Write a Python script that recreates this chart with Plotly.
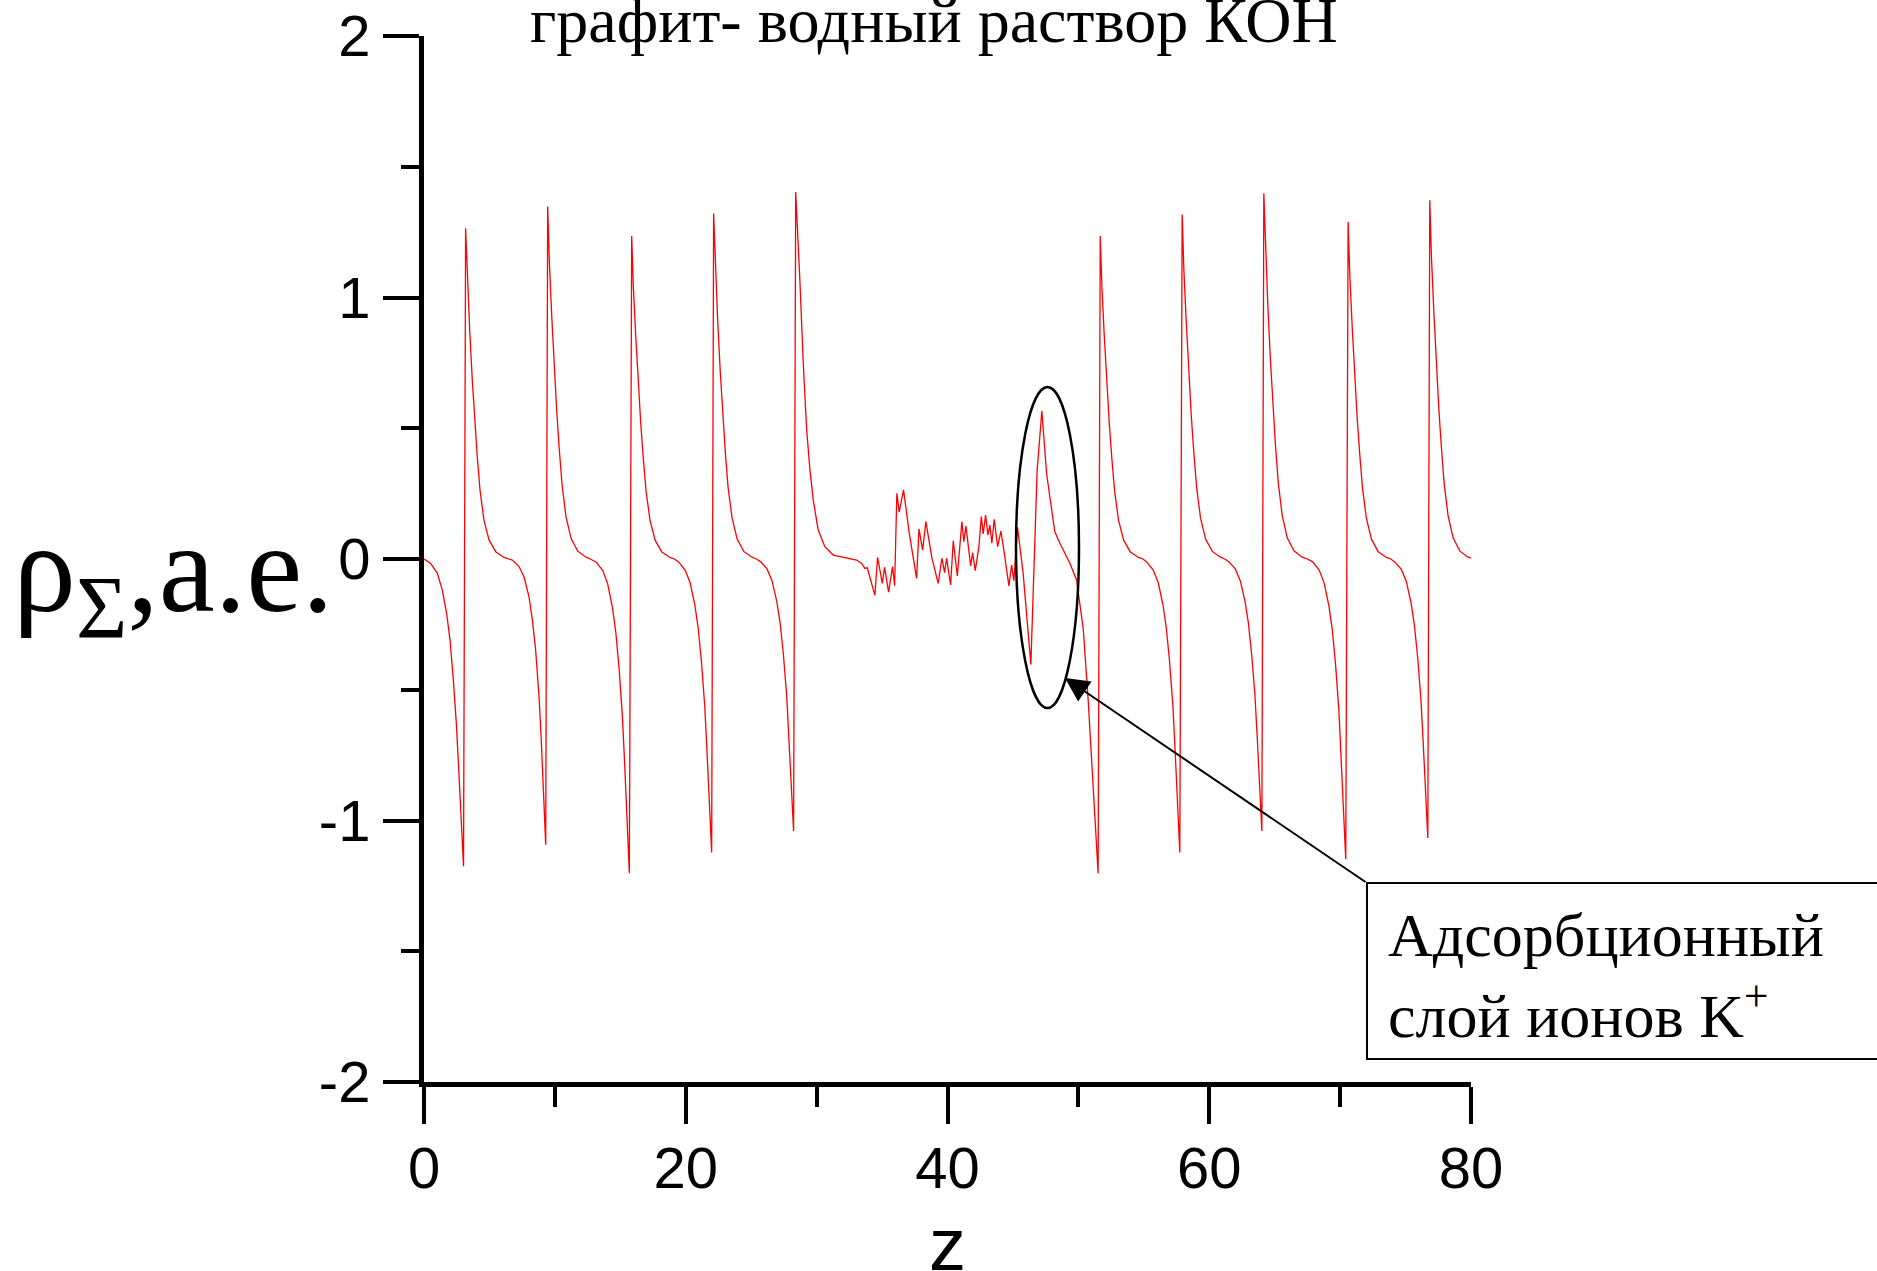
import plotly.graph_objects as go

# ---- data ----
z_left = [0, 0.51, 1.02, 1.40, 1.73, 1.99, 2.24, 2.47, 2.67, 2.85, 3.02,
          3.18, 3.31, 3.49, 3.69, 3.87, 4.07, 4.28, 4.58, 4.97, 5.48, 6.11, 6.57, 6.75, 7.26, 7.64, 8.02, 8.28, 8.53, 8.79, 8.96, 9.12, 9.30,
          9.45, 9.58, 9.76, 9.96, 10.14, 10.34, 10.55, 10.85, 11.24, 11.75, 12.38, 12.71, 13.16, 13.66, 14.04, 14.40, 14.66, 14.91, 15.16, 15.34, 15.51, 15.69,
          15.87, 16.00, 16.18, 16.38, 16.56, 16.76, 16.97, 17.27, 17.66, 18.17, 18.80, 19.13, 19.45, 19.95, 20.33, 20.69, 20.95, 21.20, 21.45, 21.63, 21.80, 21.98,
          22.13, 22.26, 22.44, 22.64, 22.82, 23.02, 23.23, 23.53, 23.92, 24.43, 25.06, 25.39, 25.71, 26.21, 26.59, 26.95, 27.21, 27.46, 27.71, 27.89, 28.06, 28.24,
          28.40, 28.56, 28.72, 28.98, 29.24, 29.49, 29.74, 30.12, 30.63, 31.27, 32.29, 33.05]
rho_left = [0, -0.017, -0.055, -0.119, -0.208, -0.31, -0.463, -0.628, -0.82, -1.01, -1.175,
            1.265, 1.067, 0.876, 0.684, 0.532, 0.391, 0.264, 0.149, 0.073, 0.028, 0.006, 0.0, -0.004, -0.029, -0.068, -0.144, -0.233, -0.348, -0.527, -0.692, -0.883, -1.093,
            1.348, 1.132, 0.930, 0.728, 0.566, 0.418, 0.283, 0.162, 0.078, 0.030, 0.007, 0.0, -0.012, -0.044, -0.096, -0.186, -0.282, -0.421, -0.601, -0.793, -0.998, -1.202,
            1.235, 1.037, 0.852, 0.667, 0.519, 0.383, 0.259, 0.148, 0.072, 0.027, 0.006, 0.0, -0.011, -0.042, -0.090, -0.174, -0.264, -0.393, -0.561, -0.741, -0.931, -1.122,
            1.321, 1.110, 0.911, 0.713, 0.555, 0.410, 0.277, 0.159, 0.077, 0.029, 0.007, 0.0, -0.010, -0.038, -0.083, -0.161, -0.244, -0.364, -0.520, -0.686, -0.863, -1.040,
            1.403, 1.24, 1.067, 0.748, 0.493, 0.340, 0.226, 0.111, 0.047, 0.015, 0.003, -0.004]

z_water = [33.44, 33.69, 33.87, 34.07, 34.45, 34.66, 35.02, 35.19, 35.50, 35.80, 35.96, 36.13, 36.31, 36.64, 37.08, 37.64,
           37.82, 38.10, 38.35, 38.81, 39.29, 39.57, 39.78, 39.93, 40.24, 40.44, 40.75, 41.10, 41.25, 41.41, 41.77, 41.92,
           42.12, 42.40, 42.58, 42.73, 42.91, 43.09, 43.24, 43.39, 43.57, 43.83, 44.08, 44.38, 44.69, 44.90, 45.07]
rho_water = [-0.017, -0.036, -0.034, -0.068, -0.138, 0.006, -0.093, -0.032, -0.127, -0.029, -0.102, 0.251, 0.179, 0.264, 0.098, -0.074,
             0.115, 0.034, 0.143, 0.003, -0.093, 0.003, -0.052, 0.003, -0.099, 0.070, -0.065, 0.143, 0.066, 0.126, -0.026, 0.024,
             -0.045, 0.047, 0.162, 0.096, 0.168, 0.092, 0.130, 0.060, 0.152, 0.047, 0.107, 0.009, -0.103, -0.023, -0.083]

z_ads = [45.35, 45.78, 46.37, 46.85, 47.21, 47.57, 47.82, 48.20, 48.59, 49.35, 49.86, 50.11, 50.37, 50.75, 51.13, 51.51]
rho_ads = [0.121, -0.055, -0.403, 0.340, 0.566, 0.328, 0.238, 0.104, 0.060, -0.016, -0.080, -0.170, -0.266, -0.540, -0.880, -1.202]

z_right = [51.67, 51.80, 51.98, 52.18, 52.36, 52.56, 52.77, 53.07, 53.46, 53.97, 54.60, 54.93, 55.22, 55.72, 56.10, 56.46, 56.72, 56.97, 57.22, 57.40, 57.57, 57.75,
           57.93, 58.06, 58.24, 58.44, 58.62, 58.82, 59.03, 59.33, 59.72, 60.23, 60.86, 61.19, 61.49, 61.99, 62.37, 62.73, 62.99, 63.24, 63.49, 63.67, 63.84, 64.02,
           64.17, 64.30, 64.48, 64.68, 64.86, 65.06, 65.27, 65.57, 65.96, 66.47, 67.10, 67.50, 67.90, 68.40, 68.78, 69.14, 69.40, 69.65, 69.90, 70.08, 70.25, 70.43,
           70.61, 70.74, 70.92, 71.12, 71.30, 71.50, 71.71, 72.01, 72.40, 72.91, 73.54, 73.87, 74.17, 74.67, 75.05, 75.41, 75.67, 75.92, 76.17, 76.35, 76.52, 76.70,
           76.85, 76.98, 77.16, 77.36, 77.54, 77.74, 77.95, 78.25, 78.64, 79.15, 79.78, 80.0]
rho_right = [1.235, 1.037, 0.852, 0.667, 0.519, 0.383, 0.259, 0.148, 0.072, 0.027, 0.006, 0.0, -0.011, -0.042, -0.090, -0.174, -0.264, -0.393, -0.561, -0.741, -0.931, -1.122,
             1.317, 1.106, 0.909, 0.711, 0.553, 0.408, 0.277, 0.158, 0.076, 0.029, 0.007, 0.0, -0.010, -0.038, -0.083, -0.161, -0.244, -0.364, -0.520, -0.686, -0.863, -1.040,
             1.399, 1.175, 0.965, 0.755, 0.588, 0.434, 0.294, 0.168, 0.081, 0.031, 0.007, 0.0, -0.011, -0.042, -0.092, -0.178, -0.270, -0.402, -0.574, -0.758, -0.953, -1.148,
             1.289, 1.083, 0.889, 0.696, 0.541, 0.400, 0.271, 0.155, 0.075, 0.028, 0.006, 0.0, -0.011, -0.039, -0.085, -0.165, -0.251, -0.373, -0.534, -0.704, -0.886, -1.067,
             1.372, 1.152, 0.947, 0.741, 0.576, 0.425, 0.288, 0.165, 0.080, 0.030, 0.007, 0.004]

x_ticks = [0, 20, 40, 60, 80]
y_ticks = [-2, -1, 0, 1, 2]

title_text = "графит- водный раствор КОН"
y_label = "ρ<sub>Σ</sub>,a.e."
x_label = "z"
note_text = "Адсорбционный<br>слой ионов K<sup>+</sup>"

# ---- figure ----
W, H = 1877, 1271
L, R, T, B = 424, 406, 36, 189
PW, PH = W - L - R, H - T - B


def px(xp):
    return (xp - L) / PW


def py(yp):
    return (H - B - yp) / PH


z_all = z_left + z_water + z_ads + z_right
rho_all = rho_left + rho_water + rho_ads + rho_right

fig = go.Figure()
fig.add_trace(go.Scatter(x=z_all, y=rho_all, mode="lines",
                         line=dict(color="#ff0000", width=1.3),
                         showlegend=False, hoverinfo="skip"))

axis_common = dict(showline=True, linecolor="black", linewidth=5, mirror=False,
                   ticks="outside", tickcolor="black", tickwidth=4,
                   showgrid=False, zeroline=False, automargin=False,
                   tickfont=dict(family="Liberation Sans, Arial", size=58, color="black"))

fig.update_xaxes(range=[0, 80], tickvals=x_ticks, ticktext=[str(v) for v in x_ticks],
                 ticklen=37, ticklabelstandoff=-6,
                 minor=dict(tickvals=[10, 30, 50, 70], ticklen=20, tickwidth=4, tickcolor="black", ticks="outside", showgrid=False),
                 **axis_common)
fig.update_yaxes(range=[-2, 2], tickvals=y_ticks, ticktext=[str(v) for v in y_ticks],
                 ticklen=36, ticklabelstandoff=1,
                 minor=dict(tickvals=[-1.5, -0.5, 0.5, 1.5], ticklen=18, tickwidth=4, tickcolor="black", ticks="outside", showgrid=False),
                 **axis_common)

serif = "Liberation Serif, Times New Roman"
sans = "Liberation Sans, Arial"

annotations = [
    dict(text=title_text, xref="paper", yref="paper", x=px(934), y=py(-17),
         xanchor="center", yanchor="top", showarrow=False,
         font=dict(family=serif, size=64, color="black")),
    dict(text=y_label, xref="paper", yref="paper", x=px(336), y=py(497),
         xanchor="right", yanchor="top", showarrow=False,
         font=dict(family=serif, size=126, color="black")),
    dict(text=x_label, xref="paper", yref="paper", x=px(947), y=py(1201),
         xanchor="center", yanchor="top", showarrow=False,
         font=dict(family=sans, size=74, color="black")),
    dict(text=note_text, xref="paper", yref="paper", x=px(1386), y=py(899),
         xanchor="left", yanchor="top", showarrow=False, align="left",
         font=dict(family=serif, size=62, color="black")),
    dict(text="", xref="paper", yref="paper", x=px(1065), y=py(678),
         ax=1367 - 1065, ay=883 - 678, axref="pixel", ayref="pixel",
         showarrow=True, arrowhead=2, arrowsize=2.4, arrowwidth=2, arrowcolor="black",
         standoff=0, startstandoff=0),
]

shapes = [
    dict(type="circle", xref="paper", yref="paper",
         x0=px(1016), x1=px(1079), y0=py(708), y1=py(387),
         line=dict(color="black", width=2.5)),
    dict(type="rect", xref="paper", yref="paper",
         x0=px(1367), x1=px(1900), y0=py(1059), y1=py(883),
         line=dict(color="black", width=2), fillcolor="rgba(0,0,0,0)"),
]

fig.update_layout(width=W, height=H, template="none",
                  paper_bgcolor="white", plot_bgcolor="white",
                  margin=dict(l=L, r=R, t=T, b=B, pad=0),
                  annotations=annotations, shapes=shapes, showlegend=False)

fig.write_html("out.html")
